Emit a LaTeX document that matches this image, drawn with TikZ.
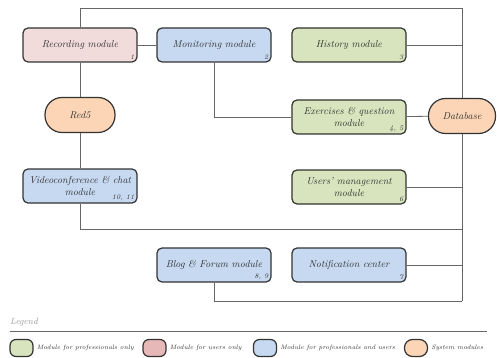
\documentclass[tikz,border=0pt]{standalone}
\usepackage{xcolor}
\usetikzlibrary{positioning}

\definecolor{boxline}{HTML}{333333}
\definecolor{linegray}{HTML}{666666}
\definecolor{proffill}{HTML}{D7E4BD}
\definecolor{userfill}{HTML}{F2DCDB}
\definecolor{userkey}{HTML}{E6B9B8}
\definecolor{bothfill}{HTML}{C6D9F1}
\definecolor{sysfill}{HTML}{FBD5B5}

\begin{document}
\begin{tikzpicture}[x=1pt, y=-1pt, font=\itshape, text=boxline]
    \tikzstyle{module} = [rectangle, draw=boxline, line width=1.2pt, rounded corners=5pt, minimum width=114pt, minimum height=34pt, align=center, inner sep=2pt]
    \tikzstyle{system} = [rectangle, draw=boxline, line width=1.2pt, rounded corners=17pt, minimum height=35pt, fill=sysfill]
    \tikzstyle{num} = [font=\itshape\scriptsize, inner sep=3pt]
    \tikzstyle{link} = [draw=linegray, line width=0.8pt]
    \tikzstyle{key} = [rectangle, draw=boxline, line width=1.2pt, rounded corners=6pt, minimum width=23pt, minimum height=17pt]
    \tikzstyle{keytext} = [font=\itshape\fontsize{6.4}{7}\selectfont, inner sep=1pt]

    \useasboundingbox (0,0) rectangle (497,358);

    % Modules
    \node [module, fill=userfill, label={[num, anchor=south east]south east:1}] (rec) at (80,45) {Recording module};
    \node [module, fill=bothfill, label={[num, anchor=south east]south east:2}] (mon) at (214,45) {Monitoring module};
    \node [module, fill=proffill, label={[num, anchor=south east]south east:3}] (hist) at (349,45) {History module};
    \node [module, fill=proffill, label={[num, anchor=south east]south east:{4, 5}}] (exer) at (349,117) {Exercises \& question\\module};
    \node [module, fill=bothfill, label={[num, anchor=south east]south east:{10, 11}}] (video) at (80,186) {Videoconference \& chat\\module};
    \node [module, fill=proffill, label={[num, anchor=south east]south east:6}] (users) at (349,187) {Users' management\\module};
    \node [module, fill=bothfill, label={[num, anchor=south east]south east:{8, 9}}] (blog) at (214,265) {Blog \& Forum module};
    \node [module, fill=bothfill, label={[num, anchor=south east]south east:7}] (notif) at (349,265) {Notification center};

    % System modules
    \node [system, minimum width=70pt] (red) at (80,115) {Red5};
    \node [system, minimum width=67pt] (db) at (462,116) {Database};

    % Bus
    \coordinate (bustop) at (462,8);
    \coordinate (busmid) at (462,229);
    \coordinate (busbot) at (462,301);

    % Links
    \draw [link] (rec.north) |- (bustop) -- (db.north);
    \draw [link] (db.south) -- (busbot);
    \draw [link] (rec) -- (mon);
    \draw [link] (rec) -- (red);
    \draw [link] (red) -- (video);
    \draw [link] (mon.south) |- (exer.west);
    \draw [link] (exer) -- (db);
    \draw [link] (hist.east) -- (hist.east -| bustop);
    \draw [link] (users.east) -- (users.east -| bustop);
    \draw [link] (notif.east) -- (notif.east -| bustop);
    \draw [link] (video.south) |- (busmid);
    \draw [link] (blog.south) |- (busbot);

    % Legend
    \node [anchor=west, text=gray!80, font=\itshape\small, inner sep=0pt] (legend) at (10,322) {Legend};
    \coordinate (legl) at (10,331);
    \coordinate (legr) at (487,331);
    \draw [link] (legl) -- (legr);

    \node [key, fill=proffill] (kprof) at (21.5,348) {};
    \node [keytext, right=2pt of kprof] (tprof) {Module for professionals only};
    \node [key, fill=userkey] (kuser) at (154.5,348) {};
    \node [keytext, right=2pt of kuser] (tuser) {Module for users only};
    \node [key, fill=bothfill] (kboth) at (265,348) {};
    \node [keytext, right=2pt of kboth] (tboth) {Module for professionals and users};
    \node [key, fill=sysfill, rounded corners=8pt] (ksys) at (416,348) {};
    \node [keytext, right=2pt of ksys] (tsys) {System modules};
\end{tikzpicture}
\end{document}
